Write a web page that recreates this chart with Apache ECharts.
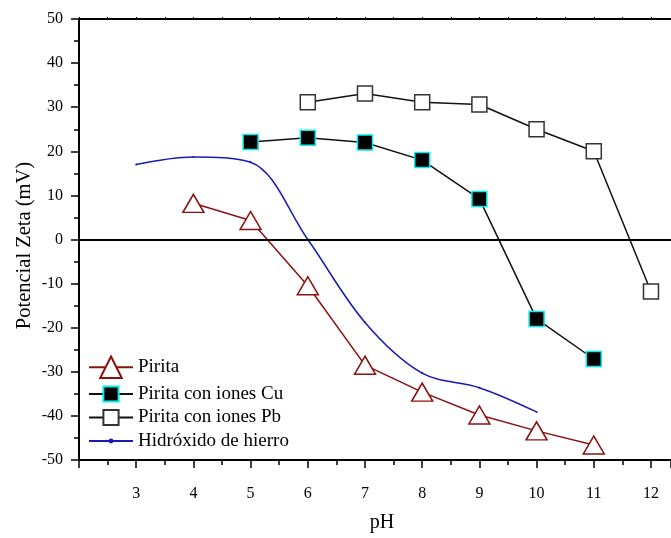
<!DOCTYPE html>
<html>
<head>
<meta charset="utf-8">
<script src="https://cdn.jsdelivr.net/npm/echarts@6/dist/echarts.min.js"></script>
<style>
html,body{margin:0;padding:0;background:#fff;}
#chart{width:671px;height:538px;}
</style>
</head>
<body>
<div id="chart"></div>
<script>
// Data
var seriesNames = ['Pirita', 'Pirita con iones Cu', 'Pirita con iones Pb', 'Hidróxido de hierro'];
var piritaPH = [4, 5, 6, 7, 8, 9, 10, 11];
var piritaZeta = [8.2, 4.3, -10.5, -28.5, -34.6, -39.8, -43.4, -46.6];
var cuPH = [5, 6, 7, 8, 9, 10, 11];
var cuZeta = [22.1, 23.1, 22.0, 18.0, 9.2, -18.0, -27.1];
var pbPH = [6, 7, 8, 9, 10, 11, 12];
var pbZeta = [31.1, 33.1, 31.1, 30.6, 25.0, 20.0, -11.8];
var hidroxPH = [3, 4, 5, 6, 7, 8, 9, 10];
var hidroxZeta = [17.0, 18.7, 17.5, 0, -18.8, -30.3, -33.6, -39.1];
var xTicks = [3, 4, 5, 6, 7, 8, 9, 10, 11, 12];
var yTicks = [-50, -40, -30, -20, -10, 0, 10, 20, 30, 40, 50];

function pairs(xs, ys) { return xs.map(function (x, i) { return [x, ys[i]]; }); }

var font = 'Liberation Serif, Times New Roman, serif';
var legendRowCenters = [369, 394, 417.5, 441];
var legendIconHeights = [27, 19, 19, 6];

function makeLegend(i) {
  var h = legendIconHeights[i];
  var rowH = Math.max(h, 20);
  return {
    data: [seriesNames[i]],
    orient: 'vertical',
    left: 88,
    top: legendRowCenters[i] - rowH / 2,
    padding: 0,
    itemWidth: 44,
    itemHeight: h,
    textStyle: {fontFamily: font, fontSize: 19, color: '#000', lineHeight: 20}
  };
}

var xAxisCommon = {
  type: 'value',
  min: 2,
  max: 12.35,
  interval: 1,
  splitLine: {show: false}
};

var chart = echarts.init(document.getElementById('chart'), null, {renderer: 'canvas'});
chart.setOption({
  animation: false,
  backgroundColor: '#fff',
  textStyle: {fontFamily: font},
  grid: {left: 79, top: 19, right: 0, bottom: 77.5, show: false, containLabel: false},
  legend: [makeLegend(0), makeLegend(1), makeLegend(2), makeLegend(3)],
  xAxis: [
    Object.assign({}, xAxisCommon, {
      position: 'bottom',
      name: 'pH',
      nameLocation: 'middle',
      nameGap: 53,
      nameTextStyle: {fontFamily: font, fontSize: 20, color: '#000', padding: [0, 0, 0, 14]},
      axisLine: {show: true, onZero: false, lineStyle: {color: '#000', width: 2}},
      axisTick: {show: true, inside: false, length: 8, lineStyle: {color: '#000', width: 1.5}},
      minorTick: {show: true, splitNumber: 2, length: 5, lineStyle: {color: '#000', width: 1.5}},
      axisLabel: {
        margin: 26, fontFamily: font, fontSize: 16, color: '#000',
        showMinLabel: true, showMaxLabel: false,
        formatter: function (v) { return xTicks.indexOf(v) >= 0 ? String(v) : ''; }
      }
    }),
    Object.assign({}, xAxisCommon, {
      position: 'top',
      axisLine: {show: true, onZero: false, lineStyle: {color: '#000', width: 2}},
      axisTick: {show: true, inside: false, length: 2, lineStyle: {color: '#000', width: 1}},
      minorTick: {show: true, splitNumber: 2, length: 2, lineStyle: {color: '#000', width: 1}},
      axisLabel: {show: false}
    })
  ],
  yAxis: {
    type: 'value',
    min: -50,
    max: 50,
    interval: 10,
    name: 'Potencial Zeta (mV)',
    nameLocation: 'middle',
    nameGap: 44,
    nameMoveOverlap: false,
    nameTextStyle: {fontFamily: font, fontSize: 20.5, color: '#000', padding: [0, 12, 0, 0]},
    axisLine: {show: true, onZero: false, lineStyle: {color: '#000', width: 2}},
    axisTick: {show: true, inside: false, length: 8, lineStyle: {color: '#000', width: 1.5}},
    minorTick: {show: true, splitNumber: 2, length: 5, lineStyle: {color: '#000', width: 1.5}},
    splitLine: {show: false},
    axisLabel: {
      margin: 16, fontFamily: font, fontSize: 16, color: '#000',
      formatter: function (v) { return yTicks.indexOf(v) >= 0 ? String(v) : ''; }
    }
  },
  series: [
    {
      name: seriesNames[0],
      type: 'line',
      data: pairs(piritaPH, piritaZeta),
      symbol: 'triangle',
      symbolSize: [21, 18],
      lineStyle: {color: '#8b1010', width: 1.5},
      itemStyle: {color: '#fff', borderColor: '#8b1010', borderWidth: 1.5},
      z: 3,
      markLine: {
        silent: true,
        symbol: 'none',
        label: {show: false},
        lineStyle: {color: '#000', width: 2, type: 'solid'},
        data: [{yAxis: 0}]
      }
    },
    {
      name: seriesNames[1],
      type: 'line',
      data: pairs(cuPH, cuZeta),
      symbol: 'rect',
      symbolSize: 15,
      lineStyle: {color: '#111', width: 1.5},
      itemStyle: {color: '#000', borderColor: '#00f0f0', borderWidth: 1.5},
      z: 4
    },
    {
      name: seriesNames[2],
      type: 'line',
      data: pairs(pbPH, pbZeta),
      symbol: 'rect',
      symbolSize: 15,
      lineStyle: {color: '#111', width: 1.5},
      itemStyle: {color: '#fff', borderColor: '#333', borderWidth: 1.5},
      z: 4
    },
    {
      name: seriesNames[3],
      type: 'line',
      data: pairs(hidroxPH, hidroxZeta),
      smooth: 0.35,
      symbol: 'circle',
      symbolSize: 2,
      showSymbol: true,
      lineStyle: {color: '#1a1ab8', width: 1.5},
      itemStyle: {color: '#1a1ab8'},
      z: 2
    }
  ]
});
</script>
</body>
</html>
